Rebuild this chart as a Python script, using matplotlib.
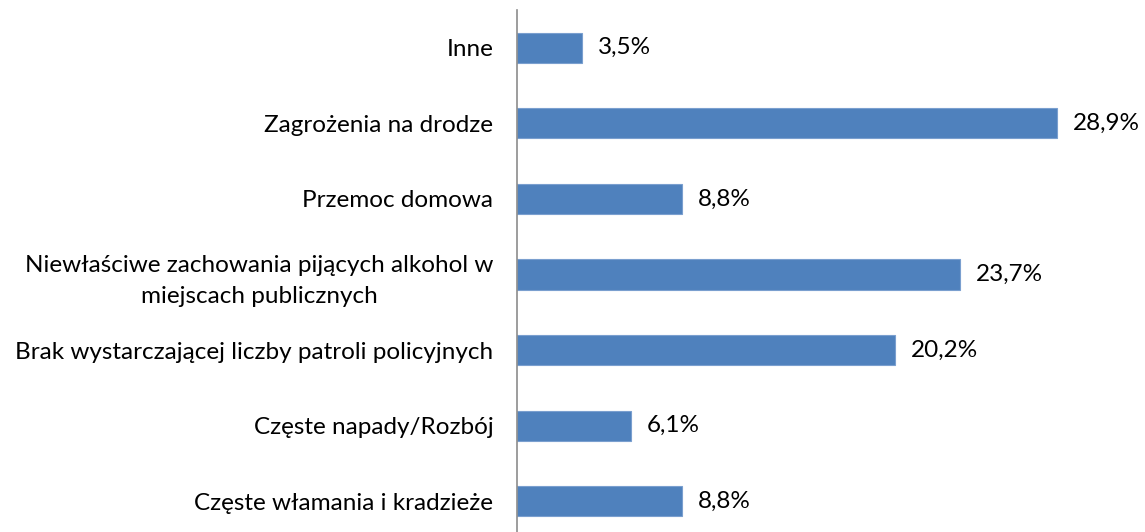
import matplotlib
matplotlib.use("Agg")
from matplotlib import pyplot as plt

plt.rcParams['font.family'] = ['Lato', 'DejaVu Sans']

# categories from bottom to top
categories = ["Częste włamania i kradzieże",
              "Częste napady/Rozbój",
              "Brak wystarczającej liczby patroli policyjnych",
              "Niewłaściwe zachowania pijących alkohol w\nmiejscach publicznych",
              "Przemoc domowa",
              "Zagrożenia na drodze",
              "Inne"]
values = [8.8, 6.1, 20.2, 23.7, 8.8, 28.9, 3.5]
value_labels = [f"{v:.1f}%".replace(".", ",") for v in values]

fig = plt.figure(figsize=(11.45, 5.32), dpi=100)
ax = fig.add_axes([517 / 1145, -7 / 532, 628 / 1145, 529 / 532])

ypos = list(range(len(categories)))
ax.barh(ypos, values, height=0.4, color='#4F81BD', edgecolor='#7A9FCF', linewidth=0.8)

for y, v, lab in zip(ypos, values, value_labels):
    ax.text(v + 0.85, y, lab, va='center', ha='left', fontsize=17.5)

ax.set_ylim(-0.5, 6.5)
ax.set_xlim(0, 628 / 18.7)
ax.set_yticks(ypos)
ax.set_yticklabels(categories, fontsize=17.5)
for t in ax.get_yticklabels():
    t.set_multialignment('center')
    t.set_linespacing(1.55)
ax.tick_params(axis='y', length=0, pad=17)
ax.set_xticks([])

for s in ['top', 'right', 'bottom']:
    ax.spines[s].set_visible(False)
ax.spines['left'].set_color('#8C8C8C')
ax.spines['left'].set_linewidth(1.2)

fig.savefig("out.png", dpi=100)
